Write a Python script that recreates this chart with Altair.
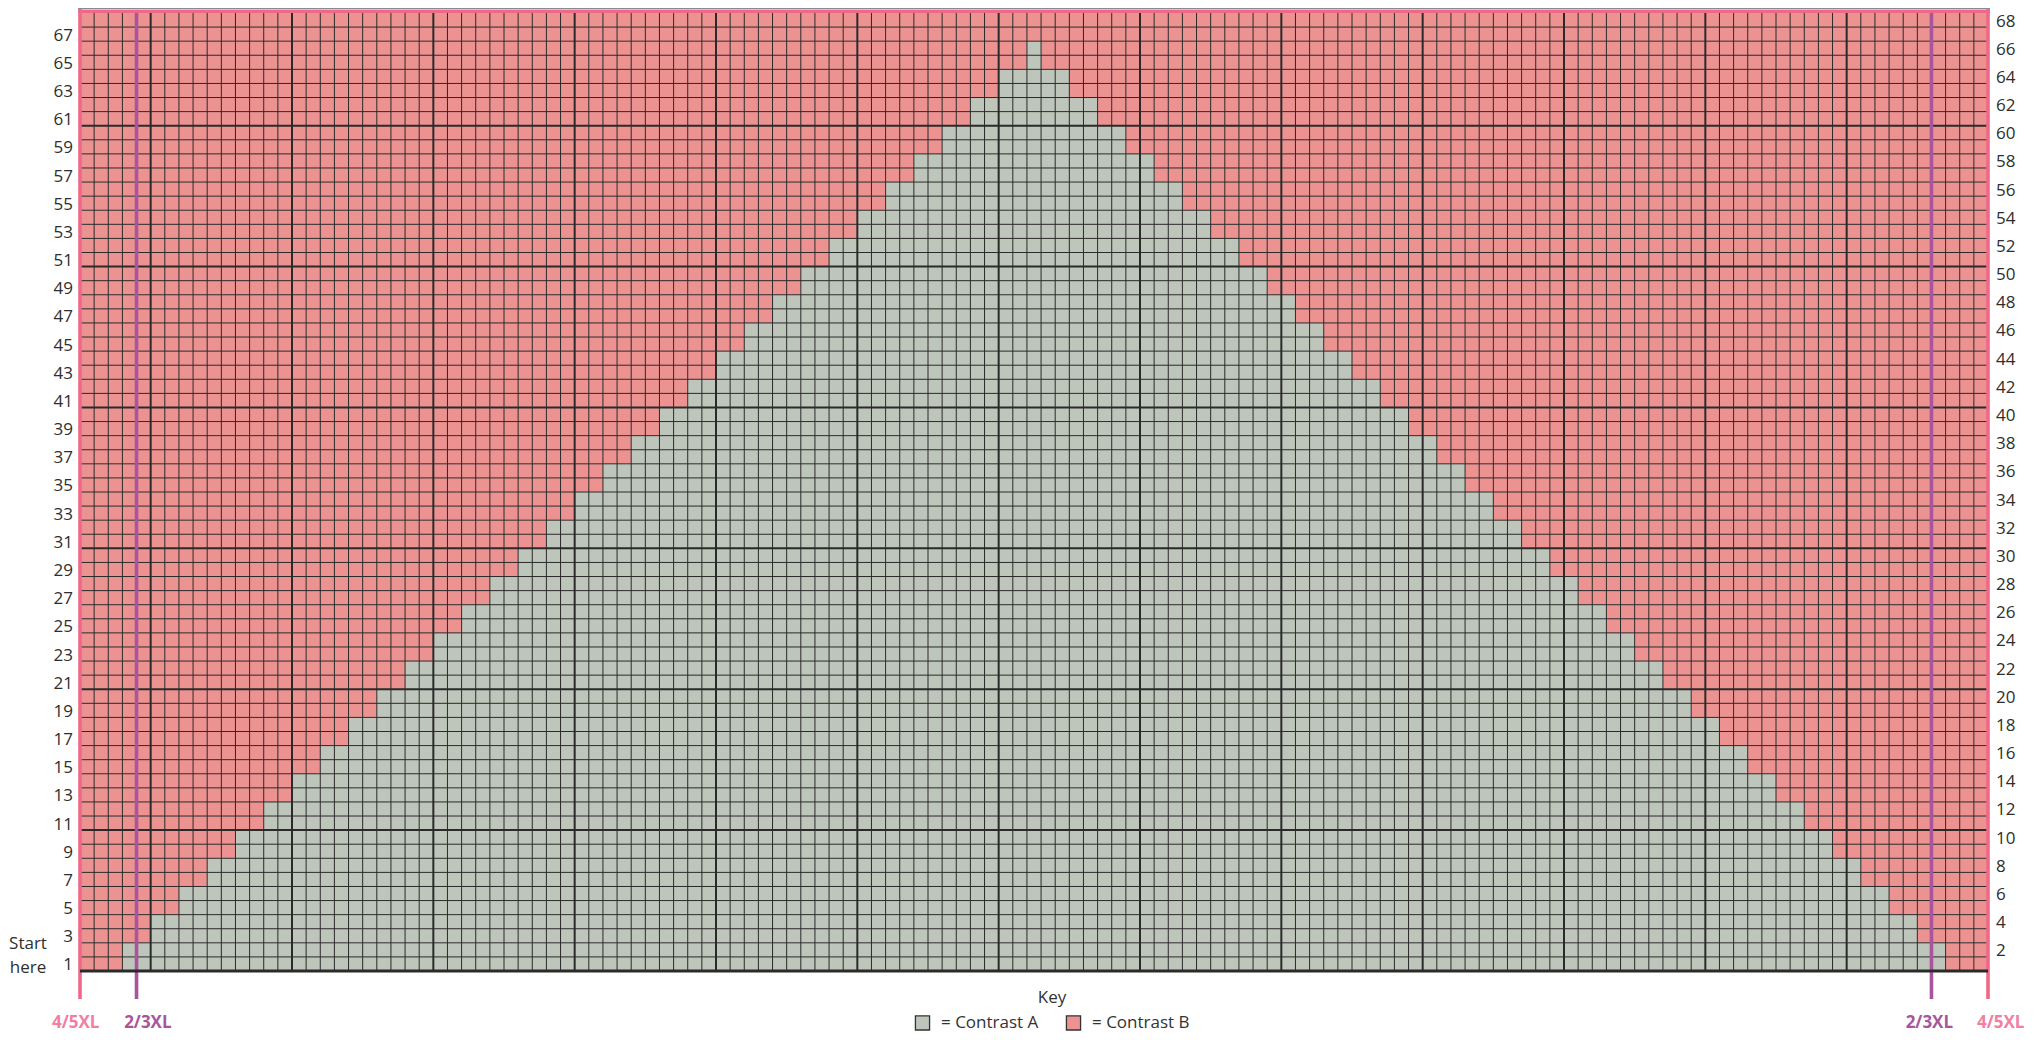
import altair as alt
import pandas as pd

# ---- data ----
N_COLS = 135
N_ROWS = 68
# each step of the staircase covers two rows (bottom row of the pair listed)
pair_rows = [1, 3, 5, 7, 9, 11, 13, 15, 17, 19, 21, 23, 25, 27, 29, 31, 33,
             35, 37, 39, 41, 43, 45, 47, 49, 51, 53, 55, 57, 59, 61, 63, 65, 67]
# first and last stitch (column, 1-based from the left) worked in Contrast A; 0 = none
gray_first = [4, 6, 8, 10, 12, 14, 16, 18, 20, 22, 24, 26, 28, 30, 32, 34, 36,
              38, 40, 42, 44, 46, 48, 50, 52, 54, 56, 58, 60, 62, 64, 66, 68, 0]
gray_last = [132, 130, 128, 126, 124, 122, 120, 118, 116, 114, 112, 110, 108, 106, 104, 102, 100,
             98, 96, 94, 92, 90, 88, 86, 84, 82, 80, 78, 76, 74, 72, 70, 68, 0]

left_labels = [1, 3, 5, 7, 9, 11, 13, 15, 17, 19, 21, 23, 25, 27, 29, 31, 33,
               35, 37, 39, 41, 43, 45, 47, 49, 51, 53, 55, 57, 59, 61, 63, 65, 67]
right_labels = [2, 4, 6, 8, 10, 12, 14, 16, 18, 20, 22, 24, 26, 28, 30, 32, 34,
                36, 38, 40, 42, 44, 46, 48, 50, 52, 54, 56, 58, 60, 62, 64, 66, 68]

size_names = ["4/5XL", "2/3XL", "2/3XL", "4/5XL"]
size_lines = [0, 4, 131, 135]
size_label_pos = [-0.3, 4.8, 130.85, 135.9]

start_text = ["Start", "here"]
start_pos = [1.9, 0.2]

COL_A = "#bec5ba"
COL_B = "#ec9392"
PINK = "#ef6888"
PINK_TXT = "#f27ea2"
PURPLE = "#a9559c"
FONT = "Open Sans"
W = 1908
H = 958

# ---- cells ----
cells = []
for r, a, b in zip(pair_rows, gray_first, gray_last):
    y0, y1 = r - 1, r + 1
    if a == 0:
        cells.append(dict(x0=0, x1=N_COLS, y0=y0, y1=y1, kind="Contrast B"))
    else:
        cells.append(dict(x0=0, x1=a - 1, y0=y0, y1=y1, kind="Contrast B"))
        cells.append(dict(x0=a - 1, x1=b, y0=y0, y1=y1, kind="Contrast A"))
        cells.append(dict(x0=b, x1=N_COLS, y0=y0, y1=y1, kind="Contrast B"))
cells_df = pd.DataFrame(cells)

xs = alt.Scale(domain=[0, N_COLS], nice=False, zero=False)
ys = alt.Scale(domain=[0, N_ROWS], nice=False, zero=False)

cell_layer = alt.Chart(cells_df).mark_rect(strokeWidth=0).encode(
    x=alt.X("x0:Q", scale=xs, axis=None),
    x2="x1:Q",
    y=alt.Y("y0:Q", scale=ys, axis=None),
    y2="y1:Q",
    color=alt.Color(
        "kind:N",
        scale=alt.Scale(domain=["Contrast A", "Contrast B"], range=[COL_A, COL_B]),
        legend=alt.Legend(
            title="Key", orient="none", direction="horizontal",
            legendX=834, legendY=977, titleOrient="top", titleAnchor="middle",
            titleFont=FONT, titleFontSize=17, titleFontWeight="normal", titleColor="#333",
            titlePadding=7,
            labelFont=FONT, labelFontSize=17, labelColor="#333",
            labelExpr="'= ' + datum.label",
            symbolType="square", symbolSize=200, symbolStrokeColor="#333",
            symbolStrokeWidth=1.3, symbolOpacity=1, labelOffset=10,
            columnPadding=24,
        ),
    ),
)

# ---- grid ----
vlines = pd.DataFrame({"v": list(range(1, N_COLS))})
vlines["w"] = [2.0 if (v - 5) % 10 == 0 else 1.0 for v in vlines["v"]]
hlines = pd.DataFrame({"h": list(range(1, N_ROWS))})
hlines["w"] = [2.0 if h % 10 == 0 else 1.0 for h in hlines["h"]]

vgrid = alt.Chart(vlines).mark_rule(color="#2a2a2a").encode(
    x=alt.X("v:Q", scale=xs, axis=None),
    strokeWidth=alt.StrokeWidth("w:Q", scale=None),
)
hgrid = alt.Chart(hlines).mark_rule(color="#2a2a2a").encode(
    y=alt.Y("h:Q", scale=ys, axis=None),
    strokeWidth=alt.StrokeWidth("w:Q", scale=None),
)

# ---- size lines ----
sizes_df = pd.DataFrame({"x": size_lines, "name": size_names,
                         "lx": size_label_pos})
purple_lines = alt.Chart(sizes_df[sizes_df["name"] == "2/3XL"]).mark_rule(
    color=PURPLE, strokeWidth=3.6).encode(
    x=alt.X("x:Q", scale=xs, axis=None),
    y=alt.value(0), y2=alt.value(986),
)
pink_lines = alt.Chart(sizes_df[sizes_df["name"] == "4/5XL"]).mark_rule(
    color=PINK, strokeWidth=3.6).encode(
    x=alt.X("x:Q", scale=xs, axis=None),
    y=alt.value(-4), y2=alt.value(986),
)
top_gray = alt.Chart(pd.DataFrame({"a": [0]})).mark_rule(
    color="#8a8a96", strokeWidth=1).encode(
    x=alt.value(-2), x2=alt.value(W + 2), y=alt.value(-4.5))
top_pink = alt.Chart(pd.DataFrame({"a": [0]})).mark_rule(
    color=PINK, strokeWidth=3.6).encode(
    x=alt.value(-2), x2=alt.value(W + 2), y=alt.value(-1.8))
bottom = alt.Chart(pd.DataFrame({"a": [0]})).mark_rule(
    color="#2a2a2a", strokeWidth=3.2).encode(
    x=alt.value(0), x2=alt.value(W), y=alt.value(H))

size_text = alt.Chart(sizes_df).mark_text(
    font=FONT, fontSize=17, fontWeight="bold", baseline="middle", align="center").encode(
    x=alt.X("lx:Q", scale=xs, axis=None),
    y=alt.value(1010),
    text="name:N",
    color=alt.Color("name:N", scale=alt.Scale(domain=["4/5XL", "2/3XL"],
                                              range=[PINK_TXT, PURPLE]), legend=None),
)

# ---- row numbers ----
left_df = pd.DataFrame({"r": left_labels})
left_df["yc"] = left_df["r"] - 0.5
right_df = pd.DataFrame({"r": right_labels})
right_df["yc"] = right_df["r"] - 0.5

left_text = alt.Chart(left_df).mark_text(
    font=FONT, fontSize=17, color="#2e2e2e", align="right", baseline="middle", dy=1.5).encode(
    x=alt.value(-7), y=alt.Y("yc:Q", scale=ys, axis=None), text="r:Q")
right_text = alt.Chart(right_df).mark_text(
    font=FONT, fontSize=17, color="#2e2e2e", align="left", baseline="middle", dy=1.5).encode(
    x=alt.value(W + 8), y=alt.Y("yc:Q", scale=ys, axis=None), text="r:Q")

start_df = pd.DataFrame({"t": start_text, "y": start_pos})
start_layer = alt.Chart(start_df).mark_text(
    font=FONT, fontSize=17, color="#2e2e2e", align="center", baseline="middle").encode(
    x=alt.value(-52), y=alt.Y("y:Q", scale=ys, axis=None), text="t:N")

chart = alt.layer(
    cell_layer, vgrid, hgrid, purple_lines, pink_lines, top_gray, top_pink, bottom,
    size_text, left_text, right_text, start_layer,
).resolve_scale(color="independent").properties(
    width=W, height=H,
    autosize=alt.AutoSizeParams(type="none"),
    padding={"left": 72, "top": 5, "right": 43, "bottom": 61},
).configure_view(stroke=None)

chart.save("out.html", embed_options={"renderer": "svg", "actions": False})
